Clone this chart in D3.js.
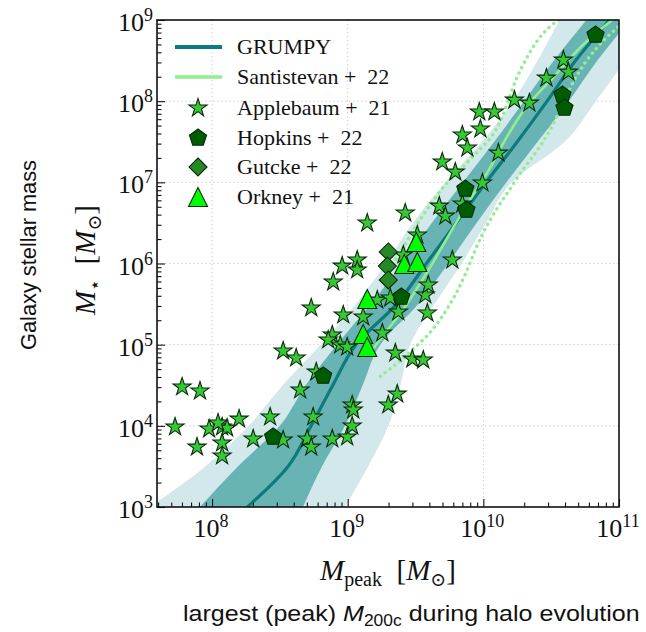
<!DOCTYPE html>
<html lang="en">
<head>
<meta charset="UTF-8">
<title>GRUMPY SMHM</title>
<script src="https://cdnjs.cloudflare.com/ajax/libs/d3/7.8.5/d3.min.js"></script>
<style>
  body { margin: 0; background: #fff; }
  svg { display: block; }
  .serif { font-family: "Liberation Serif", "DejaVu Serif", serif; fill: #111; }
  .sans { font-family: "Liberation Sans", Arial, sans-serif; fill: #111; }
</style>
</head>
<body>
<div id="chart"></div>
<script>
// ---- data (log10 values) ----
// GRUMPY band: at each stellar-mass level, log Mpeak of the band edges
const levelLogMs   = [3.0, 3.5, 4.0, 4.5, 5.0, 5.5, 6.0, 6.5, 7.0, 7.5, 8.0, 8.5, 9.0];
const outerLeft    = [7.54, 7.95, 8.27, 8.52, 8.80, 9.06, 9.28, 9.48, 9.72, 9.99, 10.22, 10.40, 10.56];
const innerLeft    = [7.91, 8.19, 8.50, 8.69, 8.92, 9.17, 9.40, 9.62, 9.85, 10.08, 10.30, 10.52, 10.76];
const medianMpeak  = [8.26, 8.56, 8.73, 8.89, 9.06, 9.36, 9.58, 9.80, 10.02, 10.25, 10.47, 10.68, 10.93];
const innerRight   = [8.67, 8.81, 8.98, 9.11, 9.24, 9.52, 9.74, 9.95, 10.17, 10.40, 10.63, 10.84, 11.08];
const outerRight   = [8.98, 9.15, 9.30, 9.39, 9.46, 9.64, 9.84, 10.02, 10.21, 10.60, 10.83, 11.05, 11.30];

// Santistevan+22 median and scatter, [log Mpeak, log Mstar]
const santiMedian = [[9.17,4.91],[9.25,5.09],[9.39,5.39],[9.61,5.96],[9.76,6.39],[9.90,6.78],[10.04,7.15],
                     [10.16,7.52],[10.30,7.89],[10.52,8.30],[10.72,8.67],[10.95,9.0]];
const santiUpper  = [[9.31,5.92],[9.42,6.23],[9.57,6.63],[9.72,6.97],[9.90,7.28],[10.13,7.77],[10.24,8.26],
                     [10.40,8.75],[10.57,9.02]];
const santiLower  = [[9.24,4.61],[9.46,4.91],[9.65,5.24],[9.82,5.70],[9.99,6.35],[10.24,7.03],[10.49,7.64],
                     [10.68,8.29],[10.97,8.88],[11.02,8.95]];

// observed galaxies, [log Mpeak, log Mstar]
const applebaum = [[7.727,3.986],[7.779,4.479],[7.911,4.429],[7.978,3.961],[8.074,3.986],[8.111,3.973],
  [8.044,4.035],[8.199,4.084],[7.889,3.739],[8.074,3.789],[8.074,3.629],[8.303,3.838],[8.428,4.109],
  [8.524,3.826],[8.649,4.442],[8.524,4.922],[8.620,4.836],[8.768,4.663],[8.745,4.109],[8.701,3.838],
  [8.731,3.739],[8.886,3.838],[8.996,3.863],[9.033,3.998],[9.033,4.257],[9.041,4.195],[9.299,4.257],
  [9.365,4.392],[9.351,4.897],[9.476,4.823],[9.557,4.811],[8.886,5.119],[8.856,5.058],[8.945,4.996],
  [8.996,4.971],[9.255,5.144],[8.967,5.366],[9.114,5.341],[8.731,5.452],[8.893,5.772],[8.959,5.969],
  [9.070,6.043],[9.070,5.920],[9.144,6.499],[9.218,5.550],[9.314,5.575],[9.373,5.403],[9.587,5.390],
  [9.572,5.612],[9.594,5.735],[9.410,6.105],[9.771,6.043],[9.513,6.351],[9.424,6.622],[9.675,6.708],
  [9.720,6.585],[9.845,6.733],[9.993,6.992],[9.697,7.251],[9.793,7.127],[9.845,7.583],[9.882,7.423],
  [9.978,7.657],[9.970,7.867],[10.081,7.867],[10.111,7.361],[10.229,8.014],[10.339,7.977],[10.465,8.285],
  [10.590,8.507],[10.627,8.359]];
const hopkins = [[8.450,3.863],[8.819,4.614],[9.395,5.587],[9.867,6.918],[9.875,6.659],[10.583,8.076],
  [10.598,7.916],[10.827,8.815]];
const gutcke = [[9.299,6.142],[9.292,5.969],[9.299,5.797]];
const orkney = [[9.506,6.265],[9.417,5.994],[9.513,6.019],[9.144,5.563],[9.114,5.132],[9.144,4.971]];

const xTickExp = [8, 9, 10, 11];
const yTickExp = [3, 4, 5, 6, 7, 8, 9];
const legendLabels = ["GRUMPY", "Santistevan +  22", "Applebaum +  21", "Hopkins +  22", "Gutcke +  22", "Orkney +  21"];

// ---- layout ----
const W = 646, H = 632;
const L = 157, R = 619, T = 20, B = 507;
const teal = "#0d7b7c", santiCol = "#90ee90";

const svg = d3.select("#chart").append("svg").attr("width", W).attr("height", H);

const x = d3.scaleLog().domain([Math.pow(10, 7.594), 1e11]).range([L, R]);
const y = d3.scaleLog().domain([1e3, 1e9]).range([B, T]);
const p10 = v => Math.pow(10, v);

svg.append("clipPath").attr("id", "clip")
  .append("rect").attr("x", L).attr("y", T).attr("width", R - L).attr("height", B - T);

// grid
const grid = svg.append("g").attr("stroke", "#cfcfcf").attr("stroke-width", 1).attr("stroke-dasharray", "1.5,2.5");
grid.selectAll(".gx").data([8, 9, 10]).join("line")
  .attr("x1", d => x(p10(d))).attr("x2", d => x(p10(d))).attr("y1", T).attr("y2", B);
grid.selectAll(".gy").data([4, 5, 6, 7, 8]).join("line")
  .attr("y1", d => y(p10(d))).attr("y2", d => y(p10(d))).attr("x1", L).attr("x2", R);

const plot = svg.append("g").attr("clip-path", "url(#clip)");

// GRUMPY bands
const bandRows = levelLogMs.map((v, i) => ({
  ms: v, ol: outerLeft[i], il: innerLeft[i], md: medianMpeak[i], ir: innerRight[i], or: outerRight[i]
}));
const areaOf = (a, b) => d3.area().curve(d3.curveMonotoneY)
  .y(d => y(p10(d.ms))).x0(d => x(p10(d[a]))).x1(d => x(p10(d[b])));
plot.append("path").datum(bandRows).attr("d", areaOf("ol", "or")).attr("fill", "#d2e8ea");
plot.append("path").datum(bandRows).attr("d", areaOf("il", "ir")).attr("fill", "#68b4b5");
plot.append("path").datum(bandRows)
  .attr("d", d3.line().curve(d3.curveMonotoneY).y(d => y(p10(d.ms))).x(d => x(p10(d.md))))
  .attr("fill", "none").attr("stroke", teal).attr("stroke-width", 3.2);

// Santistevan lines
const pairLine = d3.line().curve(d3.curveMonotoneX).x(d => x(p10(d[0]))).y(d => y(p10(d[1])));
plot.append("path").datum(santiMedian).attr("d", pairLine)
  .attr("fill", "none").attr("stroke", santiCol).attr("stroke-width", 2.6);
[santiUpper, santiLower].forEach(s => {
  plot.append("path").datum(s).attr("d", pairLine)
    .attr("fill", "none").attr("stroke", santiCol).attr("stroke-width", 3.4)
    .attr("stroke-linecap", "round").attr("stroke-dasharray", "0.1,6");
});

// marker shapes
function poly(pts) { return "M" + pts.map(p => p[0].toFixed(2) + "," + p[1].toFixed(2)).join("L") + "Z"; }
function star(r) {
  const pts = [];
  for (let k = 0; k < 10; k++) {
    const a = -Math.PI / 2 + k * Math.PI / 5, rr = k % 2 ? r * 0.382 : r;
    pts.push([rr * Math.cos(a), rr * Math.sin(a)]);
  }
  return poly(pts);
}
function pentagon(r) {
  const pts = [];
  for (let k = 0; k < 5; k++) {
    const a = -Math.PI / 2 + k * 2 * Math.PI / 5;
    pts.push([r * Math.cos(a), r * Math.sin(a)]);
  }
  return poly(pts);
}
const diamond = r => poly([[0, -r], [r, 0], [0, r], [-r, 0]]);
const triangle = r => poly([[0, -r], [r, r], [-r, r]]);

const markerSets = [
  { data: applebaum, d: star(9.5), fill: "#36c636" },
  { data: hopkins, d: pentagon(9), fill: "#005c00" },
  { data: gutcke, d: diamond(9), fill: "#248a24" },
  { data: orkney, d: triangle(9.5), fill: "#00ff00" }
];
const marks = svg.append("g").attr("clip-path", "url(#clip)");
markerSets.forEach(m => {
  marks.append("g").selectAll("path").data(m.data).join("path")
    .attr("d", m.d)
    .attr("transform", d => `translate(${x(p10(d[0]))},${y(p10(d[1]))})`)
    .attr("fill", m.fill).attr("stroke", "#0a2a0a").attr("stroke-width", 1.1);
});

// axes (ticks inward)
const minorX = [], minorY = [];
for (let e = 7; e <= 10; e++) for (let k = 2; k <= 9; k++) {
  const v = k * p10(e); if (v > x.domain()[0] && v < 1e11) minorX.push(v);
}
for (let e = 3; e <= 8; e++) for (let k = 2; k <= 9; k++) minorY.push(k * p10(e));

svg.append("g").attr("transform", `translate(0,${B})`)
  .call(d3.axisBottom(x).tickValues(xTickExp.map(p10)).tickSize(-8).tickFormat(""));
svg.append("g").attr("transform", `translate(0,${B})`)
  .call(d3.axisBottom(x).tickValues(minorX).tickSize(-4.5).tickFormat(""));
svg.append("g").attr("transform", `translate(${L},0)`)
  .call(d3.axisLeft(y).tickValues(yTickExp.map(p10)).tickSize(-8).tickFormat(""));
svg.append("g").attr("transform", `translate(${L},0)`)
  .call(d3.axisLeft(y).tickValues(minorY).tickSize(-4.5).tickFormat(""));
svg.selectAll(".domain").remove();
svg.selectAll(".tick line").attr("stroke", "#111").attr("stroke-width", 1.1);

svg.append("rect").attr("x", L).attr("y", T).attr("width", R - L).attr("height", B - T)
  .attr("fill", "none").attr("stroke", "#111").attr("stroke-width", 1.6);

// tick labels with superscripts
xTickExp.forEach(e => {
  const t = svg.append("text").attr("class", "serif").attr("x", x(p10(e)) - 1).attr("y", 537)
    .attr("text-anchor", "middle").attr("font-size", 26);
  t.append("tspan").text("10");
  t.append("tspan").attr("dy", -10).attr("font-size", 18).text(e);
});
yTickExp.forEach(e => {
  const t = svg.append("text").attr("class", "serif").attr("x", 153).attr("y", y(p10(e)) + 11)
    .attr("text-anchor", "end").attr("font-size", 26);
  t.append("tspan").text("10");
  t.append("tspan").attr("dy", -10).attr("font-size", 18).text(e);
});

// axis titles
const xt = svg.append("text").attr("class", "serif").attr("x", 388).attr("y", 580)
  .attr("text-anchor", "middle").attr("font-size", 29);
xt.append("tspan").attr("font-style", "italic").text("M");
xt.append("tspan").attr("dy", 6).attr("font-size", 20).text("peak");
xt.append("tspan").attr("dy", -6).text("\u2002[");
xt.append("tspan").attr("font-style", "italic").text("M");
xt.append("tspan").attr("dy", 6).attr("font-size", 19).attr("font-family", "DejaVu Serif").text("\u2299");
xt.append("tspan").attr("dy", -6).text("]");

const yt = svg.append("text").attr("class", "serif").attr("transform", "translate(95,260) rotate(-90)")
  .attr("text-anchor", "middle").attr("font-size", 29);
yt.append("tspan").attr("font-style", "italic").text("M");
yt.append("tspan").attr("dy", 6).attr("font-size", 19).attr("font-family", "DejaVu Serif").text("\u22c6");
yt.append("tspan").attr("dy", -6).text("\u2002[");
yt.append("tspan").attr("font-style", "italic").text("M");
yt.append("tspan").attr("dy", 6).attr("font-size", 19).attr("font-family", "DejaVu Serif").text("\u2299");
yt.append("tspan").attr("dy", -6).text("]");

// outer descriptive labels, stretched to the reference's measured lengths
const gl = svg.append("text").attr("class", "sans").attr("text-anchor", "middle")
  .attr("font-size", 22).text("Galaxy stellar mass");
const glw = gl.node().getComputedTextLength();
gl.attr("transform", `translate(36,255) rotate(-90) scale(${190 / glw},1)`);

const bt = svg.append("text").attr("class", "sans").attr("font-size", 23);
bt.append("tspan").text("largest (peak) ");
bt.append("tspan").attr("font-style", "italic").text("M");
bt.append("tspan").attr("dy", 5).attr("font-size", 16).text("200c");
bt.append("tspan").attr("dy", -5).text(" during halo evolution");
const btw = bt.node().getBBox().width;
bt.attr("transform", `translate(183,621) scale(${457 / btw},1)`);

// legend
const rowY = [47, 77, 108, 138, 167, 197];
const lg = svg.append("g");
lg.append("line").attr("x1", 175).attr("x2", 222).attr("y1", rowY[0]).attr("y2", rowY[0])
  .attr("stroke", teal).attr("stroke-width", 4);
lg.append("line").attr("x1", 175).attr("x2", 222).attr("y1", rowY[1]).attr("y2", rowY[1])
  .attr("stroke", santiCol).attr("stroke-width", 3.5);
markerSets.forEach((m, i) => {
  lg.append("path").attr("d", m.d).attr("transform", `translate(198,${rowY[i + 2]})`)
    .attr("fill", m.fill).attr("stroke", "#0a2a0a").attr("stroke-width", 1.1);
});
lg.selectAll("text").data(legendLabels).join("text").attr("class", "serif")
  .attr("x", 237).attr("y", (d, i) => rowY[i] + 7).attr("font-size", 22)
  .style("white-space", "pre").text(d => d);
</script>
</body>
</html>
